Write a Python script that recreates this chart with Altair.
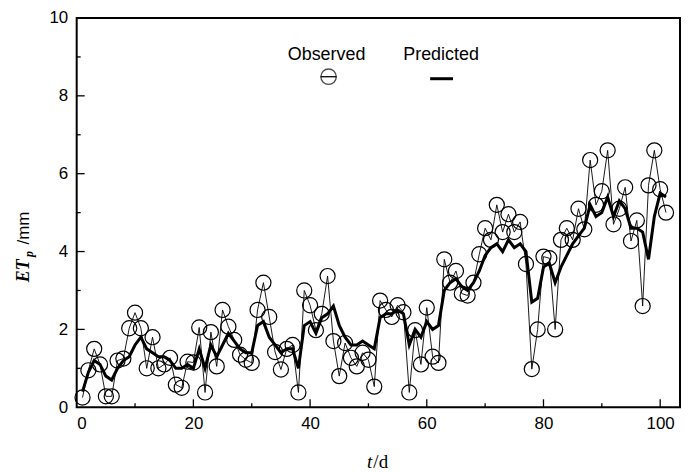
import altair as alt
import pandas as pd

days = list(range(1, 102))
observed = [
    0.25, 0.95, 1.5, 1.1, 0.28, 0.28, 1.2, 1.25, 2.03, 2.43,
    2.03, 1.0, 1.8, 1.0, 1.1, 1.27, 0.58, 0.5, 1.17, 1.15,
    2.05, 0.38, 1.93, 1.05, 2.5, 2.07, 1.73, 1.35, 1.22, 1.14,
    2.5, 3.2, 2.32, 1.42, 0.97, 1.5, 1.6, 0.38, 3.0, 2.62,
    1.98, 2.4, 3.37, 1.7, 0.8, 1.65, 1.27, 1.05, 1.4, 1.22,
    0.53, 2.74, 2.5, 2.32, 2.62, 2.44, 0.38, 1.98, 1.1, 2.56,
    1.3, 1.14, 3.8, 3.2, 3.5, 2.92, 2.87, 3.2, 3.93, 4.6,
    4.3, 5.2, 4.5, 4.96, 4.5, 4.76, 3.68, 0.98, 2.0, 3.87,
    3.83, 2.0, 4.3, 4.6, 4.3, 5.1, 4.57, 6.35, 5.2, 5.55,
    6.6, 4.7, 5.1, 5.65, 4.27, 4.8, 2.6, 5.7, 6.6, 5.6,
    5.0,
]
predicted = [
    0.4, 0.9, 1.2, 1.1, 0.8, 0.7, 1.0, 1.2, 1.3, 1.6,
    1.8, 1.5, 1.4, 1.3, 1.3, 1.2, 1.0, 1.0, 1.1, 1.0,
    1.5, 1.0, 1.6, 1.3, 1.6, 1.9, 1.7, 1.5, 1.4, 1.4,
    2.1, 2.2, 1.8, 1.6, 1.4, 1.5, 1.5, 1.0, 2.1, 2.2,
    1.9, 2.3, 2.4, 2.6, 2.1, 1.8, 1.6, 1.6, 1.7, 1.6,
    1.5, 2.3, 2.4, 2.4, 2.5, 2.4, 1.6, 2.0, 1.8, 2.2,
    2.0, 2.1, 3.0, 3.2, 3.3, 3.1, 3.0, 3.2, 3.5, 3.9,
    4.1, 4.2, 4.0, 4.3, 4.1, 4.2, 4.0, 2.7, 2.8, 3.6,
    3.7, 3.2, 3.6, 3.9, 4.2, 4.4, 4.6, 5.2, 4.9, 5.0,
    5.4, 4.9, 5.3, 5.1, 4.6, 4.6, 4.5, 3.8, 4.9, 5.5,
    5.4,
]
x_major = [0, 20, 40, 60, 80, 100]
x_minor = [10, 30, 50, 70, 90]
y_major = [0, 2, 4, 6, 8, 10]
y_minor = [1, 3, 5, 7, 9]

df = pd.DataFrame({"day": days, "obs": observed, "pred": predicted})

W, H = 606, 391
xs = alt.Scale(domain=[0, 103.4], nice=False, zero=False)
ys = alt.Scale(domain=[0, 10], nice=False)

FONT = "Liberation Sans"

x_axis = alt.Axis(values=x_major, ticks=False, domain=False, grid=False, title=None,
                  labelFont=FONT, labelFontSize=17, labelColor="black", labelPadding=8,
                  labelFontWeight="normal")
y_axis = alt.Axis(values=y_major, ticks=False, domain=False, grid=False, title=None,
                  labelFont=FONT, labelFontSize=17, labelColor="black", labelPadding=9,
                  labelFontWeight="normal")


def X(field):
    return alt.X(field, type="quantitative", scale=xs, axis=x_axis)


def Y(field):
    return alt.Y(field, type="quantitative", scale=ys, axis=y_axis)


base = alt.Chart(df)
obs_line = base.mark_line(color="black", strokeWidth=0.9).encode(x=X("day"), y=Y("obs"))
obs_pts = base.mark_point(shape="circle", size=230, filled=False, color="black",
                          strokeWidth=1.2, opacity=1).encode(x=X("day"), y=Y("obs"))
pred_line = base.mark_line(color="black", strokeWidth=3).encode(x=X("day"), y=Y("pred"))


def yticks(vals, length):
    return alt.Chart(pd.DataFrame({"v": vals})).mark_rule(color="black", strokeWidth=1.3).encode(
        y=Y("v"), x=alt.value(0), x2=alt.value(length))


def xticks(vals, length):
    return alt.Chart(pd.DataFrame({"v": vals})).mark_rule(color="black", strokeWidth=1.3).encode(
        x=X("v"), y=alt.value(H), y2=alt.value(H - length))


one = pd.DataFrame({"a": [0]})


def txt(s, x, y, **kw):
    return alt.Chart(one).mark_text(text=s, color="black", **kw).encode(
        x=alt.value(x), y=alt.value(y))


legend = [
    txt("Observed", 251, 37, font=FONT, fontSize=18, align="center", baseline="middle"),
    txt("Predicted", 366, 37, font=FONT, fontSize=18, align="center", baseline="middle"),
    alt.Chart(one).mark_point(shape="circle", size=240, filled=False, color="black",
                              strokeWidth=1.3).encode(x=alt.value(253), y=alt.value(59)),
    alt.Chart(one).mark_rule(color="black", strokeWidth=1.3).encode(
        x=alt.value(245), x2=alt.value(261), y=alt.value(59)),
    alt.Chart(one).mark_rule(color="black", strokeWidth=3).encode(
        x=alt.value(355), x2=alt.value(378), y=alt.value(61)),
]

titles = [
    txt("ET", -53, 254, font="Liberation Serif", fontSize=18, fontStyle="italic",
        fontWeight="bold", angle=270, align="center", baseline="middle"),
    txt("p", -48, 237, font="Liberation Serif", fontSize=12, fontStyle="italic",
        fontWeight="bold", angle=270, align="center", baseline="middle"),
    txt("/mm", -53, 211, font=FONT, fontSize=17, angle=270, align="center", baseline="middle"),
    txt("t", 297, 446, font="Liberation Serif", fontSize=19, fontStyle="italic",
        align="right", baseline="middle"),
    txt("/d", 298, 446, font="Liberation Serif", fontSize=19, align="left", baseline="middle"),
]

chart = alt.layer(
    obs_line, obs_pts, pred_line,
    yticks(y_major[1:-1], 8), yticks(y_minor, 4),
    xticks(x_major[1:], 8), xticks(x_minor, 4),
    *legend, *titles,
).properties(
    width=W, height=H,
    autosize=alt.AutoSizeParams(type="none"),
    padding={"left": 69, "top": 9, "right": 2, "bottom": 64},
    background="white",
).configure_view(stroke="black", strokeWidth=2)

chart.save("out.html", embed_options={"renderer": "svg", "actions": False})
